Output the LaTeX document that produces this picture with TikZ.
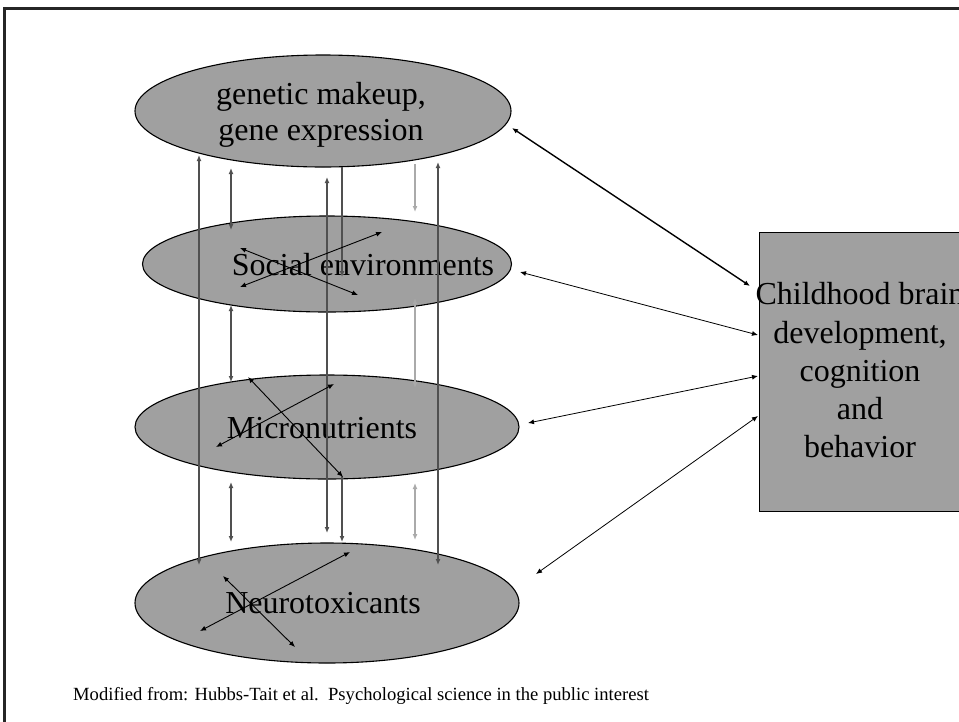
\documentclass[tikz,border=0pt]{standalone}
\usepackage{fontspec}
\setmainfont{Liberation Serif}
\usetikzlibrary{shapes.geometric,arrows.meta}
\definecolor{ellfill}{RGB}{160,160,160}
\definecolor{darkln}{RGB}{80,80,80}
\definecolor{lightln}{RGB}{170,170,170}
\begin{document}
\begin{tikzpicture}[x=1pt,y=-1pt,
  >={Latex[length=6pt,width=5pt]},
  ell/.style={ellipse, draw=black, line width=1.1pt, fill=ellfill, inner sep=0pt},
  bigtxt/.style={font=\fontsize{32}{36}\selectfont, inner sep=0pt, align=center},
  vdark/.style={draw=darkln, line width=1.9pt},
  vlight/.style={draw=lightln, line width=1.9pt},
  cross/.style={draw=black, line width=0.9pt, <->},
  side/.style={draw=black, line width=0.8pt, <->}]
\useasboundingbox (0,0) rectangle (959,721);
% frame
\draw[line width=2.5pt, black!85] (4.5,730) -- (4.5,8.5) -- (970,8.5);
% ellipses
\node[ell, minimum width=376pt, minimum height=112pt] (gen) at (323,111) {};
\node[ell, minimum width=369pt, minimum height=96pt] (soc) at (327,264) {};
\node[ell, minimum width=384pt, minimum height=104pt] (mic) at (327,427) {};
\node[ell, minimum width=384pt, minimum height=120pt] (neu) at (327,603) {};
% box
\node[draw=black, line width=1.1pt, fill=ellfill, anchor=north west, minimum width=205pt, minimum height=279pt, inner sep=0pt] (box) at (759,232) {};
% texts
\node[bigtxt] (gentxt) at (321,114.5) {genetic makeup,\\gene expression};
\node[bigtxt, anchor=base] (soctxt) at (363,275) {Social environments};
\node[bigtxt, anchor=base] (mictxt) at (322,438) {Micronutrients};
\node[bigtxt, anchor=base] (neutxt) at (323,613) {Neurotoxicants};
\node[font=\fontsize{32}{38.25}\selectfont, inner sep=0pt, align=center] (boxtxt) at (860,370.5) {Childhood brain\\development,\\cognition\\and\\behavior};
\node[font=\fontsize{18.6}{22}\selectfont, inner sep=0pt, anchor=base west] (note) at (73,700) {Modified from: Hubbs-Tait et al.\ \ Psychological science in the public interest};
% vertical connectors
\draw[vdark, <->] (199,155) coordinate (v1a) -- (199,565) coordinate (v1b);
\draw[vdark, <->] (231,168) coordinate (v2a) -- (231,230) coordinate (v2b);
\draw[vdark, <->] (231,305) coordinate (v2c) -- (231,382) coordinate (v2d);
\draw[vdark, <->] (231,482) coordinate (v2e) -- (231,542) coordinate (v2f);
\draw[vdark, <->] (327,177) coordinate (v3a) -- (327,533) coordinate (v3b);
\draw[vdark, ->] (342,167) coordinate (v4a) -- (342,277) coordinate (v4b);
\draw[vdark, ->] (342,476) coordinate (v4c) -- (342,542) coordinate (v4d);
\draw[vlight, ->] (415,164) coordinate (v5a) -- (415,212) coordinate (v5b);
\draw[vlight, <->] (415,298) coordinate (v5c) -- (415,388) coordinate (v5d);
\draw[vlight, <->] (415,483) coordinate (v5e) -- (415,540) coordinate (v5f);
\draw[vdark, <->] (438,162) coordinate (v6a) -- (438,565) coordinate (v6b);
% crossing connectors
\draw[cross] (240,248) coordinate (s1a) -- (358,295) coordinate (s1b);
\draw[cross] (240,287) coordinate (s2a) -- (382,232) coordinate (s2b);
\draw[cross] (248,377) coordinate (m1a) -- (343,477) coordinate (m1b);
\draw[cross] (216,447) coordinate (m2a) -- (334,384) coordinate (m2b);
\draw[cross] (200,631) coordinate (n1a) -- (350,552) coordinate (n1b);
\draw[cross] (223,576) coordinate (n2a) -- (295,647) coordinate (n2b);
% connectors to box
\draw[side, line width=1.4pt] (512,128) coordinate (r1a) -- (750,286) coordinate (r1b);
\draw[side] (520,272) coordinate (r2a) -- (758,335) coordinate (r2b);
\draw[side] (528,423) coordinate (r3a) -- (758,376) coordinate (r3b);
\draw[side] (536,574) coordinate (r4a) -- (758,416) coordinate (r4b);
\end{tikzpicture}
\end{document}
